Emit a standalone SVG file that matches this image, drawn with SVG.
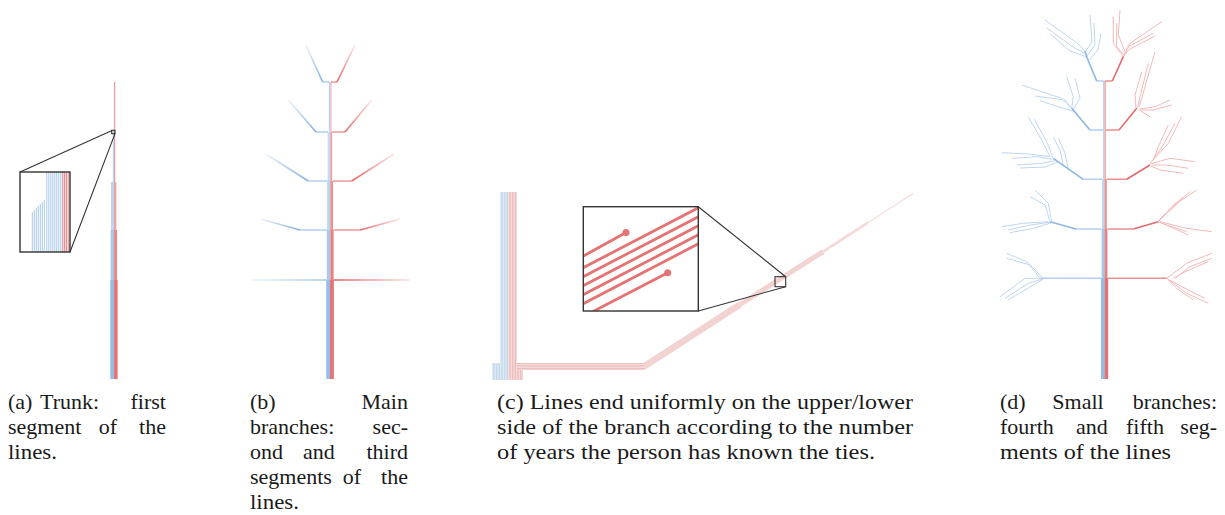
<svg xmlns="http://www.w3.org/2000/svg" width="1225" height="515" viewBox="0 0 1225 515">
<style>
.cap{font-family:'Liberation Serif','Times New Roman',serif;font-size:22px;fill:#1a1a1a}
.m{text-anchor:middle}.e{text-anchor:end}
.frame{fill:none;stroke:#333;stroke-width:1.4}
.lead{fill:none;stroke:#333;stroke-width:1.1}
.ib{stroke:#a9c9ea;stroke-width:1;fill:none}
.ir{stroke:#e88a8a;stroke-width:1.1;fill:none}
.hb{stroke:#b3d0ee;stroke-width:1.5;fill:none}
.hr{stroke:#ec9a9a;stroke-width:1.5;fill:none}
.gb{stroke:url(#gbl);stroke-width:1.7;fill:none}
.gr{stroke:url(#grr);stroke-width:1.7;fill:none}
.db{stroke:#8db6e2;stroke-width:1.6;fill:none;stroke-linejoin:round}
.dr{stroke:#e36b6b;stroke-width:1.6;fill:none;stroke-linejoin:round}
.dbh{stroke:#b3d0ee;stroke-width:1.4;fill:none}
.drh{stroke:#ec8f8f;stroke-width:1.4;fill:none}
.sb{stroke:#a9c9ea;stroke-width:1;fill:none;opacity:.75}
.sr{stroke:#ee9c9c;stroke-width:1;fill:none;opacity:.7}
.st{stroke:#e57373;stroke-width:2.8;fill:none;stroke-linecap:butt}
</style>
<defs>
<linearGradient id="gbl" x1="1" y1="1" x2="0" y2="0"><stop offset="0" stop-color="#86b1e0"/><stop offset="1" stop-color="#86b1e0" stop-opacity="0.15"/></linearGradient>
<linearGradient id="grr" x1="0" y1="1" x2="1" y2="0"><stop offset="0" stop-color="#e36b6b"/><stop offset="1" stop-color="#e36b6b" stop-opacity="0.15"/></linearGradient>
<linearGradient id="gbh" x1="1" y1="0" x2="0" y2="0"><stop offset="0" stop-color="#a9c9ea"/><stop offset="1" stop-color="#a9c9ea" stop-opacity="0.2"/></linearGradient>
<linearGradient id="grh" x1="0" y1="0" x2="1" y2="0"><stop offset="0" stop-color="#e36b6b"/><stop offset="1" stop-color="#e36b6b" stop-opacity="0.2"/></linearGradient>
<pattern id="pvb" width="1.6" height="10" patternUnits="userSpaceOnUse"><rect width="1.6" height="10" fill="#dfeaf4"/><rect width="0.8" height="10" fill="#c3d8ec"/></pattern>
<pattern id="pvr" width="1.6" height="10" patternUnits="userSpaceOnUse"><rect width="1.6" height="10" fill="#f6dcdc"/><rect width="0.8" height="10" fill="#ecbcbc"/></pattern>
<pattern id="phr" width="10" height="1.6" patternUnits="userSpaceOnUse"><rect width="10" height="1.6" fill="#f6dcdc"/><rect width="10" height="0.8" fill="#ecbcbc"/></pattern>
<clipPath id="clipc"><rect x="583.3" y="206.7" width="115" height="104.3"/></clipPath>
<filter id="soft" x="-10%" y="-10%" width="120%" height="120%"><feGaussianBlur stdDeviation="0.75"/></filter>
</defs>
<rect width="1225" height="515" fill="#fff"/>

<!-- Panel (a): trunk -->
<g id="panel-a">
  <rect x="113.9" y="82" width="1.3" height="297" fill="#ef9a9a"/>
  <rect x="112.8" y="131" width="1.1" height="248" fill="#b9d4ef"/>
  <rect x="110.9" y="182" width="3.2" height="197" fill="#bcd5ef"/>
  <rect x="114.2" y="182" width="2.2" height="197" fill="#efa3a3"/>
  <rect x="110.7" y="230" width="3.5" height="149" fill="#a7c7e9"/>
  <rect x="114.2" y="230" width="2.9" height="149" fill="#e98686"/>
  <rect x="110.4" y="280" width="3.9" height="99" fill="#96bde6"/>
  <rect x="114.2" y="280" width="3.4" height="99" fill="#e57373"/>
  <g id="inset-a">
    <rect x="20" y="172" width="50" height="80" fill="#fff"/>
    <g class="ib">
      <path d="M32.3,212V252M34.3,210V252M36.3,208V252M38.3,206V252M40.3,204V252M42.3,202V252M44.3,200V252"/>
      <path d="M46.8,172V252M48.8,172V252M50.8,172V252M52.8,172V252M54.8,172V252M56.8,172V252M58.8,172V252M60.8,172V252"/>
    </g>
    <path class="ir" d="M62.8,172V252M64.6,172V252M66.4,172V252M68.2,172V252"/>
    <rect class="frame" x="20" y="172" width="50" height="80"/>
    <rect class="lead" x="111.7" y="130.3" width="3.3" height="3.4"/>
  </g>
</g>

<!-- Panel (b): main branches -->
<g id="panel-b">
  <rect x="328.9" y="82" width="1" height="297" fill="#b3d0ee"/>
  <rect x="330.4" y="82" width="1" height="297" fill="#ec9a9a"/>
  <rect x="327.6" y="132" width="2.4" height="247" fill="#c4dcf2"/>
  <rect x="330.6" y="132" width="1.6" height="247" fill="#efa3a3"/>
  <rect x="327.2" y="181" width="2.8" height="198" fill="#bcd5ef"/>
  <rect x="330.8" y="181" width="2.2" height="198" fill="#ec9090"/>
  <rect x="326.8" y="230" width="3.2" height="149" fill="#acc9ea"/>
  <rect x="330.8" y="230" width="2.8" height="149" fill="#e98080"/>
  <rect x="326.3" y="280" width="3.8" height="99" fill="#96bde6"/>
  <rect x="330.1" y="280" width="3.6" height="99" fill="#e57373"/>
  <path class="hb" d="M322.7,82H329M316,132H328M308.3,181H327.5M300,230H327"/>
  <path class="hr" d="M331,82H337M332,132H345M333,181H351.7M333.5,230H360"/>
  <path class="gb" d="M322.7,82L305.7,45"/>
  <path class="gb" d="M316,132L288.3,100"/>
  <path class="gb" d="M308.3,181L265.7,154"/>
  <path class="gb" d="M300,230L260.7,219"/>
  <path class="gr" d="M337,82L355,45"/>
  <path class="gr" d="M345,132L371.7,100"/>
  <path class="gr" d="M351.7,181L394,154"/>
  <path class="gr" d="M360,230L400,219"/>
  <rect x="251.7" y="279.2" width="75" height="1.6" fill="url(#gbh)"/>
  <rect x="333.5" y="279.2" width="75.5" height="1.6" fill="url(#grh)"/>
</g>

<!-- Panel (c): line endings -->
<g id="panel-c">
  <rect x="500" y="192" width="8" height="188" fill="url(#pvb)"/>
  <rect x="492" y="363" width="8" height="17" fill="url(#pvb)"/>
  <rect x="508" y="192" width="9" height="188" fill="url(#pvr)"/>
  <rect x="517" y="363" width="6" height="17" fill="url(#pvr)"/>
  <rect x="517" y="363" width="128" height="7" fill="url(#phr)"/>
  <path d="M644,366.5L740,304.5" stroke="#f3d2d2" stroke-width="6.5" fill="none"/>
  <path d="M740,304.5L823,251.6" stroke="#f3d2d2" stroke-width="5" fill="none"/>
  <path d="M823,251.6L868,222.6" stroke="#f5d8d8" stroke-width="2.6" fill="none"/>
  <path d="M868,222.6L913,193.5" stroke="#f5d8d8" stroke-width="1.1" fill="none"/>
  <g id="inset-c">
    <rect x="583.3" y="206.7" width="115" height="104.3" fill="#fff"/>
    <g clip-path="url(#clipc)">
      <g filter="url(#soft)">
        <path class="st" d="M570,274.6L712,200.7M570,283.6L712,209.7M570,292.6L712,218.7M570,301.6L712,227.7M570,310.6L712,236.7"/>
        <path class="st" d="M570,263.5L626,232.5M570,323.5L667.7,272.7"/>
        <circle cx="626" cy="232.5" r="3.5" fill="#e57373"/>
        <circle cx="667.7" cy="272.7" r="3.5" fill="#e57373"/>
      </g>
    </g>
    <rect class="frame" x="583.3" y="206.7" width="115" height="104.3"/>
    <rect class="lead" x="775" y="276.7" width="10.7" height="10"/>
  </g>
</g>

<!-- Panel (d): small branches -->
<g id="panel-d">
  <rect x="1103.1" y="81" width="1.2" height="298" fill="#b3d0ee"/>
  <rect x="1104.5" y="81" width="1.2" height="298" fill="#ec9090"/>
  <rect x="1102.2" y="179" width="2.4" height="200" fill="#b9d4ef"/>
  <rect x="1104.8" y="179" width="2" height="200" fill="#ec9090"/>
  <rect x="1101.6" y="229" width="3" height="150" fill="#a7c7e9"/>
  <rect x="1104.8" y="229" width="2.6" height="150" fill="#e88080"/>
  <rect x="1101" y="278" width="3.7" height="101" fill="#96bde6"/>
  <rect x="1104.8" y="278" width="3.4" height="101" fill="#e57373"/>
  <g id="d-left-subs" class="sb">
    <polyline points="1090,15 1092,42 1085,52"/>
    <polyline points="1094,23 1095,45 1087,56"/>
    <polyline points="1101,33 1098,50 1089,60"/>
    <polyline points="1045,20 1077,43 1085,51"/>
    <polyline points="1047,28 1073,47 1086,54"/>
    <polyline points="1050,34 1070,51 1087,57"/>
    <polyline points="1066.7,76.7 1073.3,96.7 1071.7,108.3"/>
    <polyline points="1075,78.3 1080,98.3 1073,110"/>
    <polyline points="1021.7,85 1061.7,98.3 1071.7,108.3"/>
    <polyline points="1035,96 1065,100 1073,110"/>
    <polyline points="1040,100.7 1058.3,106.7 1075,111.7"/>
    <polyline points="1028.3,116.7 1041.7,140 1050,156.7"/>
    <polyline points="1034.3,119.3 1046.7,141.7 1053.3,158.3"/>
    <polyline points="1053.3,136.7 1060,150 1063.3,165"/>
    <polyline points="1058.3,138.3 1065,153.3 1068.3,168.8"/>
    <polyline points="1001.7,152.7 1028.3,154 1050,156.7"/>
    <polyline points="1011.7,158.3 1038.3,156.7 1051.7,159.3"/>
    <polyline points="1016.7,165 1041.7,163.3 1055,160.7"/>
    <polyline points="1020,168 1045,167 1058,162"/>
    <polyline points="1030,196.7 1045,205 1050,221.7"/>
    <polyline points="1035,190 1048.3,203.3 1051.7,221.7"/>
    <polyline points="1001.7,226.7 1023.3,223.3 1048.3,221.7"/>
    <polyline points="1008.3,230 1030,225 1050,222.3"/>
    <polyline points="1010,232.7 1033.3,228.3 1051.7,222.7"/>
    <polyline points="1006.7,253.3 1026.7,261.7 1040,278.3"/>
    <polyline points="1006.7,258.3 1030,265 1043.3,278.3"/>
    <polyline points="1000,296.7 1025,278.3 1040,278.3"/>
    <polyline points="1005,298.3 1028.3,283.3 1041.7,279.3"/>
    <polyline points="1008.3,300 1033.3,285 1043.3,279.3"/>
  </g>
  <g id="d-right-subs" class="sr">
    <polyline points="1113.3,16.7 1113.3,43.3 1123.3,56.7"/>
    <polyline points="1120,10 1118.3,35 1125,51.7"/>
    <polyline points="1116.7,23.3 1116.7,46.7 1124,55"/>
    <polyline points="1161.7,21.7 1130,43.3 1124,55"/>
    <polyline points="1153.3,33.3 1128.3,46.7 1123.3,56.7"/>
    <polyline points="1155,36 1128.3,50 1123.3,56.7"/>
    <polyline points="1155,51.7 1145,86.7 1139.3,106.7"/>
    <polyline points="1148.3,63.3 1141.7,90 1137.3,108.3"/>
    <polyline points="1141.7,71.7 1135,95 1136,108.3"/>
    <polyline points="1170,100 1155,106.7 1139.3,109"/>
    <polyline points="1171.7,105 1153.3,110 1140,110"/>
    <polyline points="1150,116.7 1139.3,110"/>
    <polyline points="1181.7,116.7 1168.3,143.3 1150,163.3"/>
    <polyline points="1175,123.3 1163.3,145 1151.7,161.7"/>
    <polyline points="1168.3,125 1158.3,146.7 1153.3,160"/>
    <polyline points="1195,161.7 1170,158.3 1150,164"/>
    <polyline points="1188.3,168.3 1166.7,165 1151.7,165"/>
    <polyline points="1183.3,173.3 1160,170 1150.7,166"/>
    <polyline points="1196.7,190 1176.7,203.3 1160,220"/>
    <polyline points="1190,191.7 1171.7,206.7 1158.3,221"/>
    <polyline points="1183.3,198.3 1166.7,213.3 1158.3,221.7"/>
    <polyline points="1211.7,231.7 1186.7,228.3 1160,221.7"/>
    <polyline points="1188.3,235 1170,226.7 1160,222.3"/>
    <polyline points="1186.7,231.7 1166.7,225 1158.3,221.7"/>
    <polyline points="1211.7,253.3 1186.7,263.3 1166.7,278.3"/>
    <polyline points="1211.7,258.3 1190,266.7 1175,278.3"/>
    <polyline points="1208.3,261.7 1185,271.7 1173.3,278.3"/>
    <polyline points="1208.3,303.3 1186.7,293.3 1166.7,278.3"/>
    <polyline points="1205,298.3 1181.7,286.7 1170,280"/>
    <polyline points="1193.3,300 1176.7,288.3 1168.3,280"/>
  </g>
  <path class="dbh" d="M1103.5,81H1096.7M1103,130H1090M1102,179.3H1083.3M1101.5,229H1076M1101,278.3H1040"/>
  <path class="drh" d="M1105,81H1112.3M1106,130H1119M1107,179.3H1126.7M1107.5,229H1133.3M1108,278.3H1166.7"/>
  <path class="db" d="M1096.7,81L1086.7,56.7L1085,51M1090,130L1071.7,108.3M1083.3,179.3L1053.3,158.3M1076,229L1050,221.7"/>
  <path class="dr" d="M1112.3,81L1123.3,56.7M1119,130L1136.7,108.3M1126.7,179.3L1150,165M1133.3,229L1158.3,221.7"/>
</g>

<!-- Connectors: zoom leader lines -->
<g id="connectors">
  <path class="lead" d="M20,172L112,130.5M70,252L115,133.6"/>
  <path class="lead" d="M698.3,206.7L785.7,276.7M698.3,311L785.7,286.7"/>
</g>

<!-- Captions -->
<g id="captions" class="cap">
  <text x="8" y="409">(a)</text><text x="40" y="409">Trunk:</text><text class="e" x="166" y="409">first</text>
  <text x="8" y="434">segment</text><text class="m" x="108" y="434">of</text><text class="e" x="166" y="434">the</text>
  <text x="8" y="459" textLength="49" lengthAdjust="spacingAndGlyphs">lines.</text>

  <text x="250" y="409">(b)</text><text class="e" x="408" y="409">Main</text>
  <text x="250" y="434">branches:</text><text class="e" x="408" y="434">sec-</text>
  <text x="250" y="459">ond</text><text class="m" x="319" y="459">and</text><text class="e" x="408" y="459">third</text>
  <text x="250" y="484">segments</text><text class="m" x="352" y="484">of</text><text class="e" x="408" y="484">the</text>
  <text x="250" y="509" textLength="49" lengthAdjust="spacingAndGlyphs">lines.</text>

  <text x="497" y="409" textLength="416" lengthAdjust="spacingAndGlyphs">(c) Lines end uniformly on the upper/lower</text>
  <text x="497" y="434" textLength="416" lengthAdjust="spacingAndGlyphs">side of the branch according to the number</text>
  <text x="497" y="459" textLength="378" lengthAdjust="spacingAndGlyphs">of years the person has known the ties.</text>

  <text x="1000" y="409">(d)</text><text class="m" x="1078" y="409">Small</text><text class="e" x="1217" y="409">branches:</text>
  <text x="1000" y="434">fourth</text><text class="m" x="1092" y="434">and</text><text class="m" x="1145" y="434">fifth</text><text class="e" x="1217" y="434">seg-</text>
  <text x="1000" y="459" textLength="171" lengthAdjust="spacingAndGlyphs">ments of the lines</text>
</g>
</svg>
